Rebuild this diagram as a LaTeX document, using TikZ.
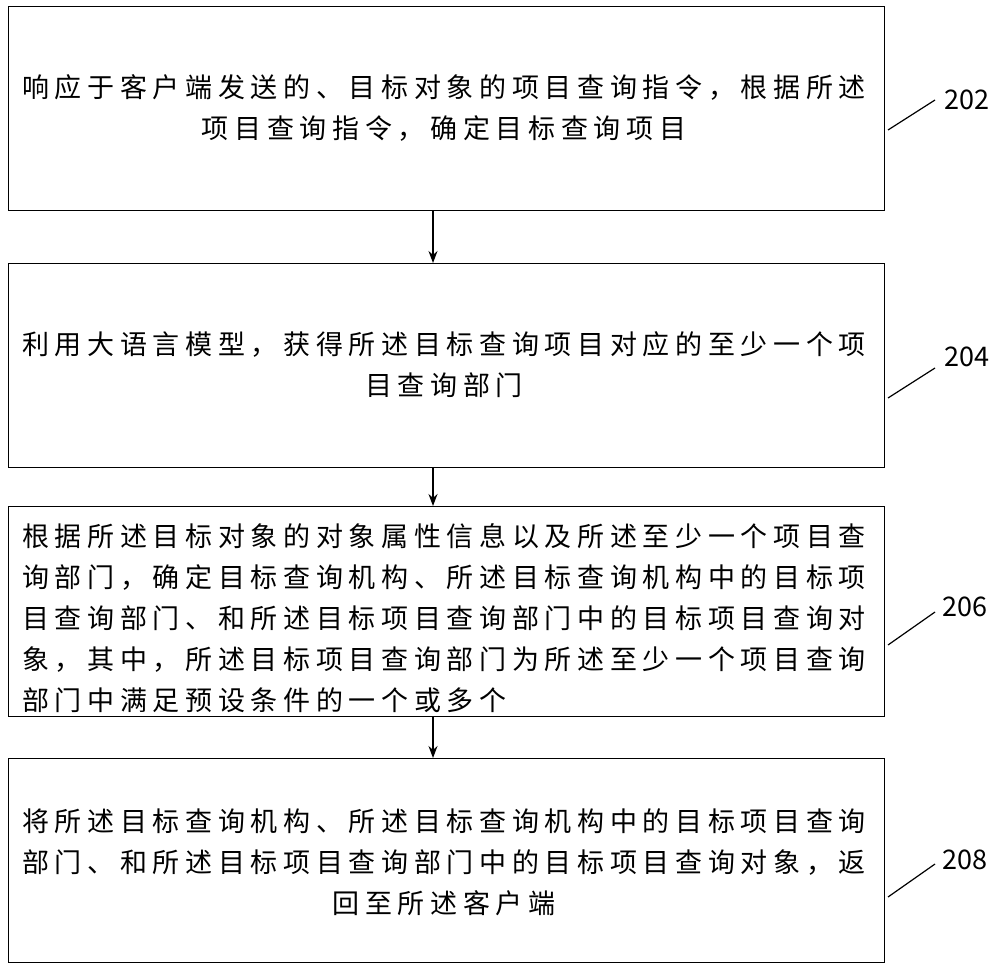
\documentclass[tikz,border=0pt]{standalone}
\usepackage{fontspec}
\setmainfont[LetterSpace=21]{Noto Sans CJK SC}
\newfontfamily\numfont{Noto Sans CJK SC}
\tikzset{
  stepbox/.style={draw,line width=1.2pt,minimum width=876pt,minimum height=204pt,anchor=north west,inner sep=0pt},
  txt/.style={font=\fontsize{27}{41}\selectfont,anchor=west,inner sep=0pt},
  arr/.style={-{Stealth[length=12pt,width=9pt]},line width=1.2pt},
  lbl/.style={font=\numfont\fontsize{27}{30}\selectfont},
  tick/.style={line width=1.2pt}
}
\usetikzlibrary{arrows.meta}
\begin{document}
\begin{tikzpicture}[x=1pt,y=-1pt]
\useasboundingbox (0,0) rectangle (1000,971);
\node[stepbox] (b1) at (8,6) {};
\node[stepbox] (b2) at (8,263) {};
\node[stepbox,minimum height=210pt] (b3) at (8,506) {};
\node[stepbox] (b4) at (8,758) {};
\node[txt,align=center] (t1) at (22,108) {响应于客户端发送的、目标对象的项目查询指令，根据所述\\项目查询指令，确定目标查询项目};
\node[txt,align=center] (t2) at (22,365) {利用大语言模型，获得所述目标查询项目对应的至少一个项\\目查询部门};
\node[txt,align=left] (t3) at (22,618) {根据所述目标对象的对象属性信息以及所述至少一个项目查\\询部门，确定目标查询机构、所述目标查询机构中的目标项\\目查询部门、和所述目标项目查询部门中的目标项目查询对\\象，其中，所述目标项目查询部门为所述至少一个项目查询\\部门中满足预设条件的一个或多个};
\node[txt,align=center] (t4) at (22,862) {将所述目标查询机构、所述目标查询机构中的目标项目查询\\部门、和所述目标项目查询部门中的目标项目查询对象，返\\回至所述客户端};
\draw[arr] (b1.south -| 433,0) -- (b2.north -| 433,0);
\draw[arr] (b2.south -| 433,0) -- (b3.north -| 433,0);
\draw[arr] (b3.south -| 433,0) -- (b4.north -| 433,0);
\node[lbl] (l1) at (967,100) {202};
\node[lbl] (l2) at (967,357) {204};
\node[lbl] (l3) at (965,607) {206};
\node[lbl] (l4) at (965,860) {208};
\coordinate (c1a) at (888,130); \coordinate (c1b) at (935,100);
\coordinate (c2a) at (888,398); \coordinate (c2b) at (935,368);
\coordinate (c3a) at (888,645); \coordinate (c3b) at (935,612);
\coordinate (c4a) at (888,897); \coordinate (c4b) at (935,864);
\draw[tick] (c1a) -- (c1b);
\draw[tick] (c2a) -- (c2b);
\draw[tick] (c3a) -- (c3b);
\draw[tick] (c4a) -- (c4b);
\end{tikzpicture}
\end{document}
